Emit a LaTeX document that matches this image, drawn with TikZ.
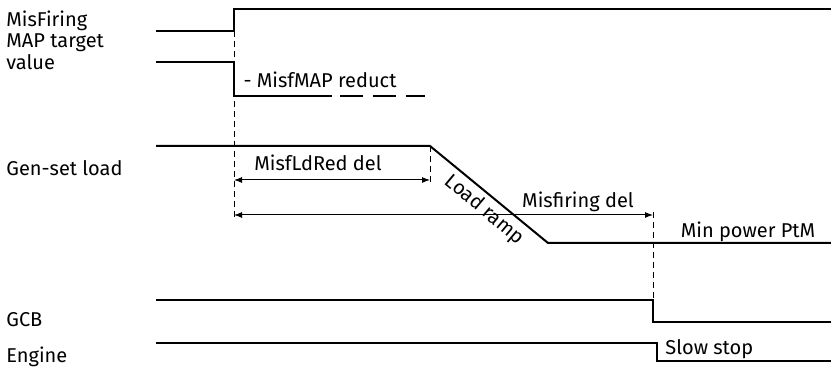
\documentclass[tikz,border=0pt]{standalone}
\usepackage{fontspec}
\setmainfont{Fira Sans}
\usetikzlibrary{arrows.meta}
\begin{document}
\begin{tikzpicture}[x=0.5pt,y=-0.5pt,
  signal/.style={line width=1pt},
  marker/.style={dash pattern=on 3pt off 2pt, line width=0.5pt},
  span/.style={{Latex[length=4pt,width=3pt]}-{Latex[length=4pt,width=3pt]}, line width=0.5pt},
  lbl/.style={anchor=west, inner sep=0pt, align=left, font=\fontsize{10}{11}\selectfont},
  txt/.style={inner sep=0pt, font=\fontsize{10}{11}\selectfont}]
\useasboundingbox (0,0) rectangle (831,368);

% signal names
\node[lbl] (misfiring) at (6,21) {MisFiring};
\node[lbl] (maptarget) at (6,52) {MAP target\\value};
\node[lbl] (gensetload) at (6,168) {Gen-set load};
\node[lbl] (gcb) at (6,320) {GCB};
\node[lbl] (engine) at (6,357) {Engine};

% event points
\coordinate (misfstart) at (234,31);
\coordinate (misfend) at (234,218);
\coordinate (rampstart) at (430,146);
\coordinate (rampmark) at (430,183);
\coordinate (delend) at (653,212);
\coordinate (gcbopen) at (653,300);

% traces
\draw[signal] (156,31) -- (234,31) -- (234,9) -- (831,9);
\draw[signal] (156,62) -- (234,62) -- (234,96) -- (332,96);
\draw[signal, dash pattern=on 11.5pt off 5pt] (340,96) -- (425,96);
\draw[signal] (156,146) -- (rampstart) -- (548,243) -- (831,243);
\draw[signal] (156,300) -- (gcbopen) -- (653,322) -- (831,322);
\draw[signal] (156,343) -- (657,343) -- (657,361) -- (831,361);

% time marks
\draw[marker] (misfstart) -- (misfend);
\draw[marker] (rampstart) -- (rampmark);
\draw[marker] (delend) -- (gcbopen);

\coordinate (ldredA) at (234,180);
\coordinate (ldredB) at (430,180);
\coordinate (misdelA) at (234,215);
\coordinate (misdelB) at (653,215);
\draw[span] (ldredA) -- (ldredB);
\draw[span] (misdelA) -- (misdelB);

% texts
\node[txt] (mapreduct) at (320,80) {- MisfMAP reduct};
\node[txt] (ldreddel) at (318,163) {MisfLdRed del};
\node[txt] (misfdel) at (578,202) {Misfiring del};
\node[txt] (minpower) at (748,232) {Min power PtM};
\node[txt, anchor=west] (slowstop) at (665,349) {Slow stop};
\node[txt, rotate=-40] (loadramp) at (484,210) {Load ramp};
\end{tikzpicture}
\end{document}
